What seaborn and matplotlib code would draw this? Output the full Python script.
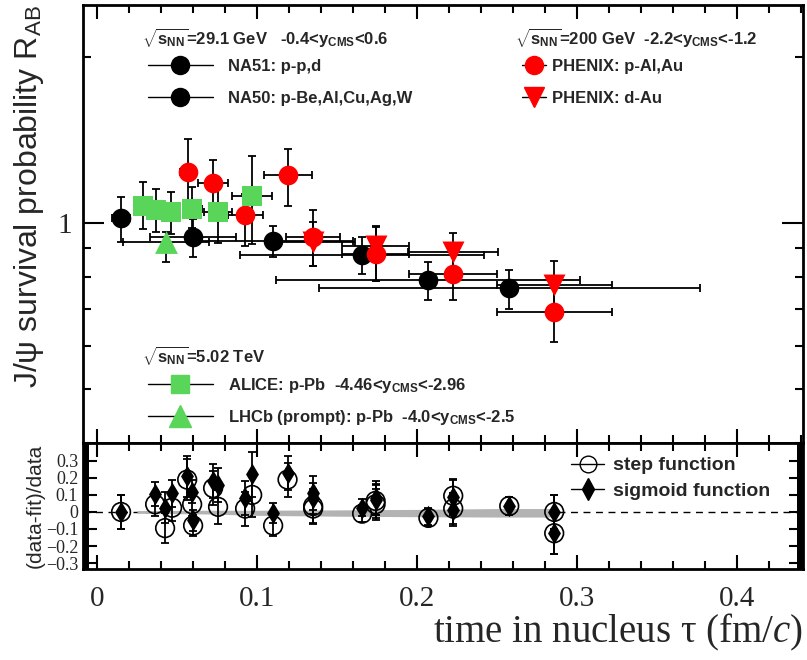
import matplotlib
matplotlib.use('Agg')
import matplotlib.pyplot as plt
import seaborn as sns
from matplotlib.lines import Line2D
from matplotlib.ticker import FixedLocator, MultipleLocator, NullFormatter

sns.set_theme(style='ticks')
plt.rcParams['font.family'] = ['Liberation Sans', 'DejaVu Sans']
plt.rcParams['mathtext.fontset'] = 'custom'
plt.rcParams['mathtext.rm'] = 'Liberation Sans'
plt.rcParams['mathtext.bf'] = 'Liberation Sans:bold'
plt.rcParams['mathtext.it'] = 'Liberation Serif:italic'

# ---- data ----
na51_tau = [0.015]
na51_r = [1.021]
na51_dn = [0.097]
na51_up = [0.093]
na51_xerr = [0.0055]

na50_tau = [0.060, 0.110, 0.1656, 0.207, 0.2575]
na50_r = [0.944, 0.928, 0.876, 0.789, 0.764]
na50_dn = [0.076, 0.060, 0.067, 0.062, 0.064]
na50_up = [0.073, 0.060, 0.068, 0.062, 0.059]
na50_xerr = [0.027, 0.050, 0.076, 0.095, 0.119]

phx_pa_tau = [0.0569, 0.0725, 0.0925, 0.119, 0.135, 0.174, 0.2225, 0.2856]
phx_pa_r = [1.236, 1.180, 1.034, 1.220, 0.944, 0.880, 0.809, 0.691]
phx_pa_dn = [0.154, 0.129, 0.125, 0.147, 0.107, 0.094, 0.082, 0.081]
phx_pa_up = [0.181, 0.119, 0.094, 0.139, 0.111, 0.108, 0.081, 0.079]
phx_pa_xerr = [0.005, 0.0094, 0.011, 0.015, 0.017, 0.021, 0.0275, 0.036]

phx_da_tau = [0.135, 0.174, 0.2225, 0.2856]
phx_da_r = [0.924, 0.909, 0.887, 0.773]
phx_da_dn = [0.087, 0.123, 0.088, 0.087]
phx_da_up = [0.080, 0.075, 0.072, 0.081]
phx_da_xerr = [0.026, 0.021, 0.028, 0.036]

alice_tau = [0.0288, 0.0369, 0.0463, 0.0594, 0.0756, 0.0969]
alice_r = [1.073, 1.055, 1.047, 1.060, 1.047, 1.118]
alice_dn = [0.098, 0.092, 0.092, 0.081, 0.127, 0.201]
alice_up = [0.112, 0.096, 0.090, 0.101, 0.129, 0.203]
alice_xerr = [0.005, 0.005, 0.005, 0.006, 0.009, 0.0125]

lhcb_tau = [0.0431]
lhcb_r = [0.924]
lhcb_dn = [0.073]
lhcb_up = [0.039]
lhcb_xerr = [0.027]

# residuals (data-fit)/data for step and sigmoid fits
res_tau = [0.015, 0.0363, 0.0425, 0.0469, 0.0563, 0.0594, 0.060, 0.0725, 0.0756,
           0.0925, 0.0969, 0.110, 0.119, 0.135, 0.135, 0.1656, 0.174, 0.174,
           0.207, 0.2225, 0.2225, 0.2575, 0.2856, 0.2856]
res_step = [0.0, 0.045, -0.095, 0.025, 0.19, 0.045, -0.08, 0.14, 0.03,
            0.02, 0.10, -0.08, 0.19, 0.035, 0.02, -0.01, 0.065, 0.045,
            -0.035, 0.095, 0.02, 0.035, -0.125, 0.0]
res_sigm = [0.0, 0.105, 0.025, 0.11, 0.21, 0.12, -0.05, 0.18, 0.16,
            0.08, 0.22, -0.005, 0.23, 0.11, 0.08, 0.025, 0.08, 0.07,
            -0.025, 0.085, 0.01, 0.035, -0.125, 0.0]
res_err = [0.10, 0.07, 0.09, 0.08, 0.12, 0.07, 0.06, 0.10, 0.10,
           0.10, 0.13, 0.06, 0.10, 0.10, 0.09, 0.05, 0.10, 0.09,
           0.05, 0.10, 0.09, 0.05, 0.12, 0.10]

band_tau = [0.025, 0.07, 0.10, 0.15, 0.20, 0.25, 0.287]
band_lo = [-0.008, -0.012, -0.02, -0.025, -0.028, -0.03, -0.03]
band_hi = [0.008, 0.010, 0.010, 0.012, 0.015, 0.02, 0.02]

RED = '#ff0000'
GREEN = '#59d659'

fig = plt.figure(figsize=(8.07, 6.6), dpi=100)
ax1 = fig.add_axes([0.1029, 0.3288, 0.8921, 0.6636])
ax2 = fig.add_axes([0.1029, 0.1379, 0.8921, 0.1909], sharex=ax1)

ebkw = dict(fmt='none', ecolor='black', elinewidth=1.3, capsize=3, capthick=1.3, zorder=2)


def draw(tau, r, dn, up, xerr, marker, color, s):
    ax1.errorbar(tau, r, yerr=[dn, up], xerr=xerr, **ebkw)
    sns.scatterplot(x=tau, y=r, ax=ax1, marker=marker, color=color, s=s,
                    linewidth=0, zorder=3, legend=False)


draw(na51_tau, na51_r, na51_dn, na51_up, na51_xerr, 'o', 'black', 200)
draw(na50_tau, na50_r, na50_dn, na50_up, na50_xerr, 'o', 'black', 200)
draw(phx_pa_tau, phx_pa_r, phx_pa_dn, phx_pa_up, phx_pa_xerr, 'o', RED, 200)
draw(phx_da_tau, phx_da_r, phx_da_dn, phx_da_up, phx_da_xerr, 'v', RED, 250)
draw(alice_tau, alice_r, alice_dn, alice_up, alice_xerr, 's', GREEN, 200)
draw(lhcb_tau, lhcb_r, lhcb_dn, lhcb_up, lhcb_xerr, '^', GREEN, 270)

ax1.set_yscale('log')
ax1.set_ylim(0.4, 2.48)
ax1.set_xlim(-0.00875, 0.441)
ax1.yaxis.set_major_locator(FixedLocator([1]))
ax1.yaxis.set_minor_locator(FixedLocator([0.4, 0.5, 0.6, 0.7, 0.8, 0.9, 2]))
ax1.yaxis.set_minor_formatter(NullFormatter())
ax1.set_yticklabels(['1'], family='Liberation Serif', fontsize=21)
ax1.xaxis.set_major_locator(MultipleLocator(0.1))
ax1.xaxis.set_minor_locator(MultipleLocator(0.02))
ax1.tick_params(axis='x', labelbottom=False)
ax1.set_ylabel(r'J/ψ survival probability R$_{\mathrm{AB}}$', fontsize=23, loc='top', labelpad=8)

# group headers
hdr = dict(transform=ax1.transAxes, fontsize=12, fontweight='bold', va='center', ha='left')
ax1.text(0.082, 0.925, r'$\sqrt{\mathbf{s_{NN}}}$=29.1 GeV   -0.4<y$_{\mathbf{CMS}}$<0.6', **hdr)
ax1.text(0.600, 0.925, r'$\sqrt{\mathbf{s_{NN}}}$=200 GeV  -2.2<y$_{\mathbf{CMS}}$<-1.2', **hdr)
ax1.text(0.082, 0.199, r'$\sqrt{\mathbf{s_{NN}}}$=5.02 TeV', **hdr)


def handle(marker, color, ms):
    return Line2D([], [], color='black', lw=1, marker=marker, markersize=ms,
                  markerfacecolor=color, markeredgecolor=color)


lkw = dict(frameon=False, borderpad=0, borderaxespad=0, loc='upper left',
           prop={'weight': 'bold', 'size': 12})
leg1 = ax1.legend([handle('o', 'black', 13), handle('o', 'black', 13)],
                  ['NA51: p-p,d', 'NA50: p-Be,Al,Cu,Ag,W'],
                  bbox_to_anchor=(0.09, 0.877), handlelength=3.9, handletextpad=0.9,
                  labelspacing=1.02, **lkw)
leg2 = ax1.legend([handle('o', RED, 13), handle('v', RED, 14)],
                  ['PHENIX: p-Al,Au', 'PHENIX: d-Au'],
                  bbox_to_anchor=(0.61, 0.877), handlelength=1.4, handletextpad=0.4,
                  labelspacing=1.02, **lkw)
leg3 = ax1.legend([handle('s', GREEN, 13), handle('^', GREEN, 16)],
                  [r'ALICE: p-Pb  -4.46<y$_{\mathbf{CMS}}$<-2.96',
                   r'LHCb (prompt): p-Pb  -4.0<y$_{\mathbf{CMS}}$<-2.5'],
                  bbox_to_anchor=(0.09, 0.153), handlelength=3.9, handletextpad=0.9,
                  labelspacing=0.78, **lkw)
ax1.add_artist(leg1)
ax1.add_artist(leg2)

# ---- ratio panel ----
ax2.axhline(0, color='black', lw=1, ls=(0, (5, 4)), zorder=1)
ax2.fill_between(band_tau, band_lo, band_hi, color='#b3b3b3', lw=0, zorder=1)
ax2.errorbar(res_tau, res_step, yerr=res_err, **ebkw)
ax2.errorbar(res_tau, res_sigm, yerr=res_err, **ebkw)
sns.scatterplot(x=res_tau, y=res_step, ax=ax2, marker='o', s=180, facecolor='none',
                edgecolor='black', linewidth=1.2, zorder=3, legend=False)
sns.scatterplot(x=res_tau, y=res_sigm, ax=ax2, marker='d', s=120, color='black',
                linewidth=0, zorder=4, legend=False)
ax2.set_ylim(-0.335, 0.405)
ax2.yaxis.set_minor_locator(MultipleLocator(0.01))
ax2.set_yticks([-0.3, -0.2, -0.1, 0, 0.1, 0.2, 0.3])
ax2.set_yticklabels(['−0.3', '−0.2', '−0.1', '0', '0.1', '0.2', '0.3'],
                    family='Liberation Serif', fontsize=13)
ax2.set_xticks([0, 0.1, 0.2, 0.3, 0.4])
ax2.set_xticklabels(['0', '0.1', '0.2', '0.3', '0.4'], family='Liberation Serif', fontsize=21)
ax2.xaxis.set_minor_locator(MultipleLocator(0.02))
ax2.set_xlim(-0.00875, 0.441)
ax2.set_ylabel('(data-fit)/data', fontsize=15, labelpad=1)
ax2.set_xlabel(r'time in nucleus τ (fm/$c$)', family='Liberation Serif', fontsize=28,
               loc='right', labelpad=0)
ax2.legend([Line2D([], [], color='black', lw=1, marker='o', markersize=12,
                   markerfacecolor='none', markeredgecolor='black'),
            Line2D([], [], color='black', lw=1, marker='d', markersize=11,
                   markerfacecolor='black', markeredgecolor='black')],
           ['step function', 'sigmoid function'], loc='upper left',
           bbox_to_anchor=(0.678, 0.89), frameon=False, borderpad=0, borderaxespad=0,
           handlelength=1.7, handletextpad=0.45, labelspacing=0.4,
           prop={'weight': 'bold', 'size': 14})

for ax in (ax1, ax2):
    for sp in ax.spines.values():
        sp.set_linewidth(2)
        sp.set_color('black')
    ax.tick_params(which='both', direction='in', top=True, right=True, color='black', width=1.5)
    ax.tick_params(which='major', length=10)
    ax.tick_params(which='minor', length=6)
    ax.set_facecolor('white')
ax1.tick_params(axis='y', which='major', length=15, pad=8)
ax2.tick_params(axis='y', which='minor', length=4)
ax2.tick_params(axis='x', pad=12)

fig.savefig('out.png', dpi=100, facecolor='white')
